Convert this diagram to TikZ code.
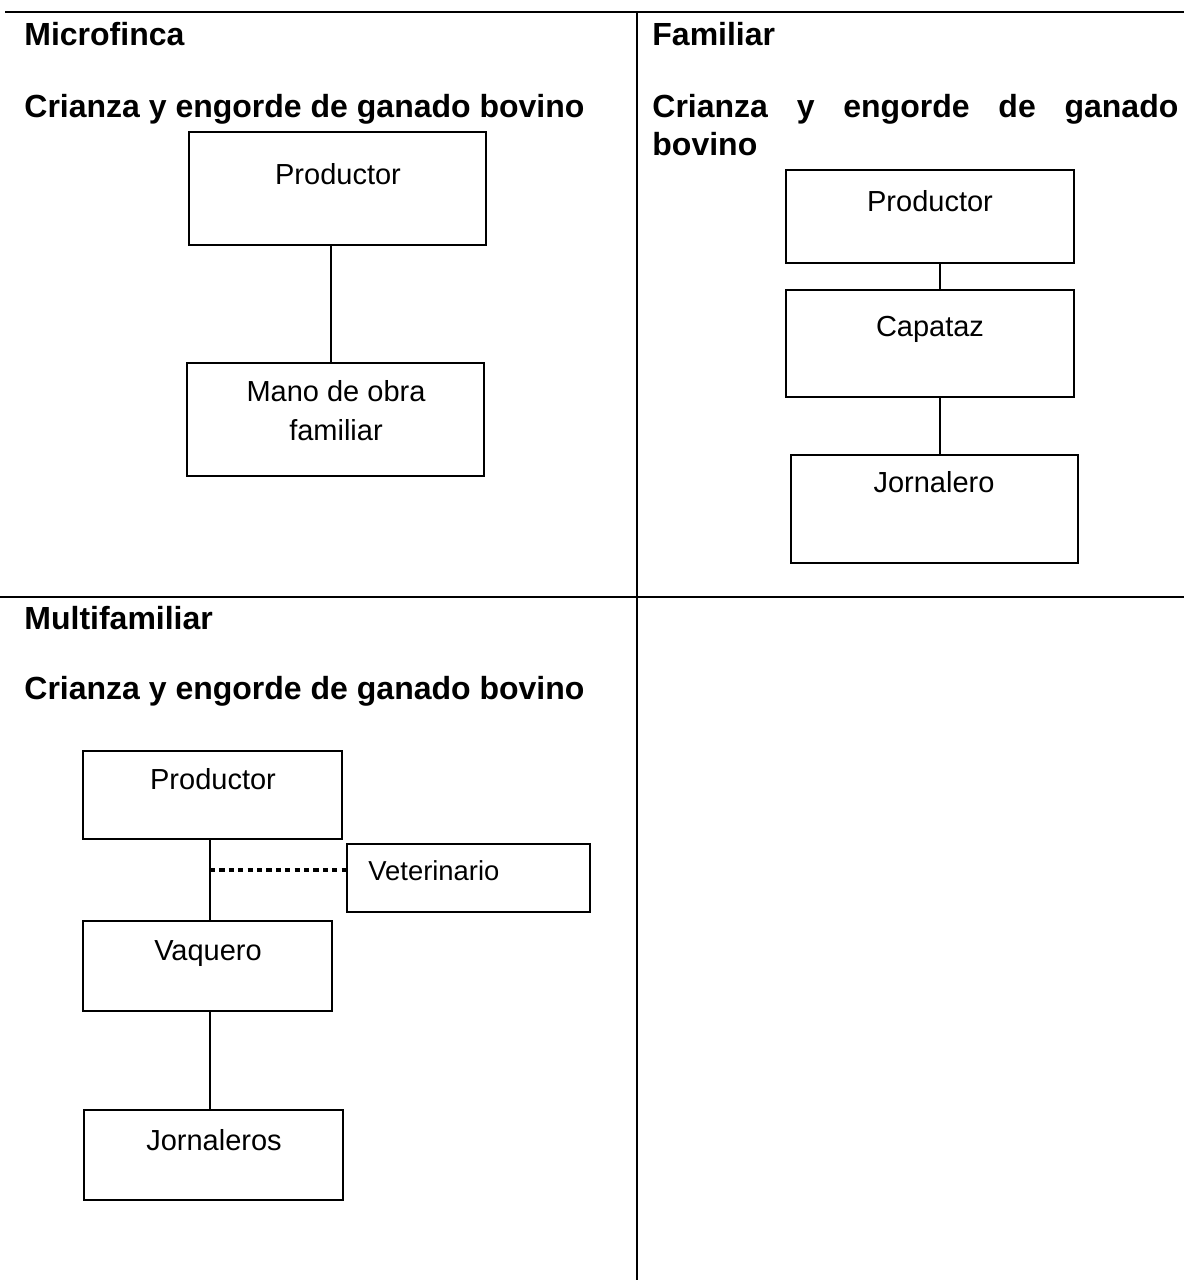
\documentclass[tikz,border=0pt]{standalone}
\usepackage{fontspec}
\setmainfont{Liberation Sans}
\begin{document}
\begin{tikzpicture}[x=0.5pt,y=-0.5pt,
  box/.style={draw, line width=1pt, inner sep=0pt},
  head/.style={font=\fontsize{16}{19}\selectfont\bfseries, inner sep=0pt, anchor=base west},
  lbl/.style={font=\fontsize{14.5}{19.5}\selectfont, inner sep=0pt, anchor=base},
  link/.style={line width=1pt},
  rule/.style={line width=1pt},
  dots/.style={line width=2.2pt, dash pattern=on 2.6pt off 2.1pt}]
\useasboundingbox (0,0) rectangle (1184,1280);

% table rules
\draw[rule] (5,12) -- (1184,12);
\draw[rule] (0,597) -- (1184,597);
\draw[rule] (637,12) -- (637,1280);

% headings
\node[head] (h1) at (24,45) {Microfinca};
\node[head] (h2) at (24,117) {Crianza y engorde de ganado bovino};
\node[head] (h3) at (652,45) {Familiar};
\node[head] (h4) at (652,117) {\makebox[263pt][s]{Crianza y engorde de ganado}};
\node[head] (h5) at (652,155) {bovino};
\node[head] (h6) at (24,629) {Multifamiliar};
\node[head] (h7) at (24,699) {Crianza y engorde de ganado bovino};

% Microfinca
\node[box, minimum width=148.5pt, minimum height=56.5pt] (A1) at (337.5,188.5) {};
\node[box, minimum width=148.5pt, minimum height=56.5pt] (A2) at (335.5,419.5) {};
\node[lbl] (A1t) at (338,184) {Productor};
\node[lbl] (A2t) at (336,401) {Mano de obra};
\node[lbl] (A2u) at (336,440) {familiar};
\coordinate (A1s) at ([xshift=-3.25pt]A1.south);
\draw[link] (A1s) -- (A1s |- A2.north);

% Familiar
\node[box, minimum width=144pt, minimum height=46.5pt] (B1) at (930,216.5) {};
\node[box, minimum width=144pt, minimum height=53.5pt] (B2) at (930,343.5) {};
\node[box, minimum width=143.5pt, minimum height=54pt] (B3) at (934.5,509) {};
\node[lbl] (B1t) at (930,211) {Productor};
\node[lbl] (B2t) at (930,336) {Capataz};
\node[lbl] (B3t) at (934,492) {Jornalero};
\coordinate (B1s) at ([xshift=5pt]B1.south);
\coordinate (B2s) at ([xshift=5pt]B2.south);
\draw[link] (B1s) -- (B1s |- B2.north);
\draw[link] (B2s) -- (B2s |- B3.north);

% Multifamiliar
\node[box, minimum width=129.5pt, minimum height=44pt] (C1) at (212.5,795) {};
\node[box, minimum width=124.5pt, minimum height=45pt] (C2) at (207.5,966) {};
\node[box, minimum width=129.5pt, minimum height=45pt] (C3) at (213.5,1155) {};
\node[box, minimum width=121.5pt, minimum height=34pt] (C4) at (468.5,878) {};
\node[lbl] (C1t) at (213,789) {Productor};
\node[lbl] (C2t) at (208,960) {Vaquero};
\node[lbl] (C3t) at (214,1150) {Jornaleros};
\node[lbl, anchor=base west, font=\fontsize{13.7}{16}\selectfont] (C4t) at (368,880) {Veterinario};
\coordinate (C1s) at ([xshift=-1.25pt]C1.south);
\coordinate (C2s) at (C1s |- C2.south);
\draw[link] (C1s) -- (C1s |- C2.north);
\draw[link] (C2s) -- (C2s |- C3.north);
\coordinate (C4w) at ([yshift=4pt]C4.west);
\draw[dots] (C1s |- C4w) -- (C4w);
\end{tikzpicture}
\end{document}
